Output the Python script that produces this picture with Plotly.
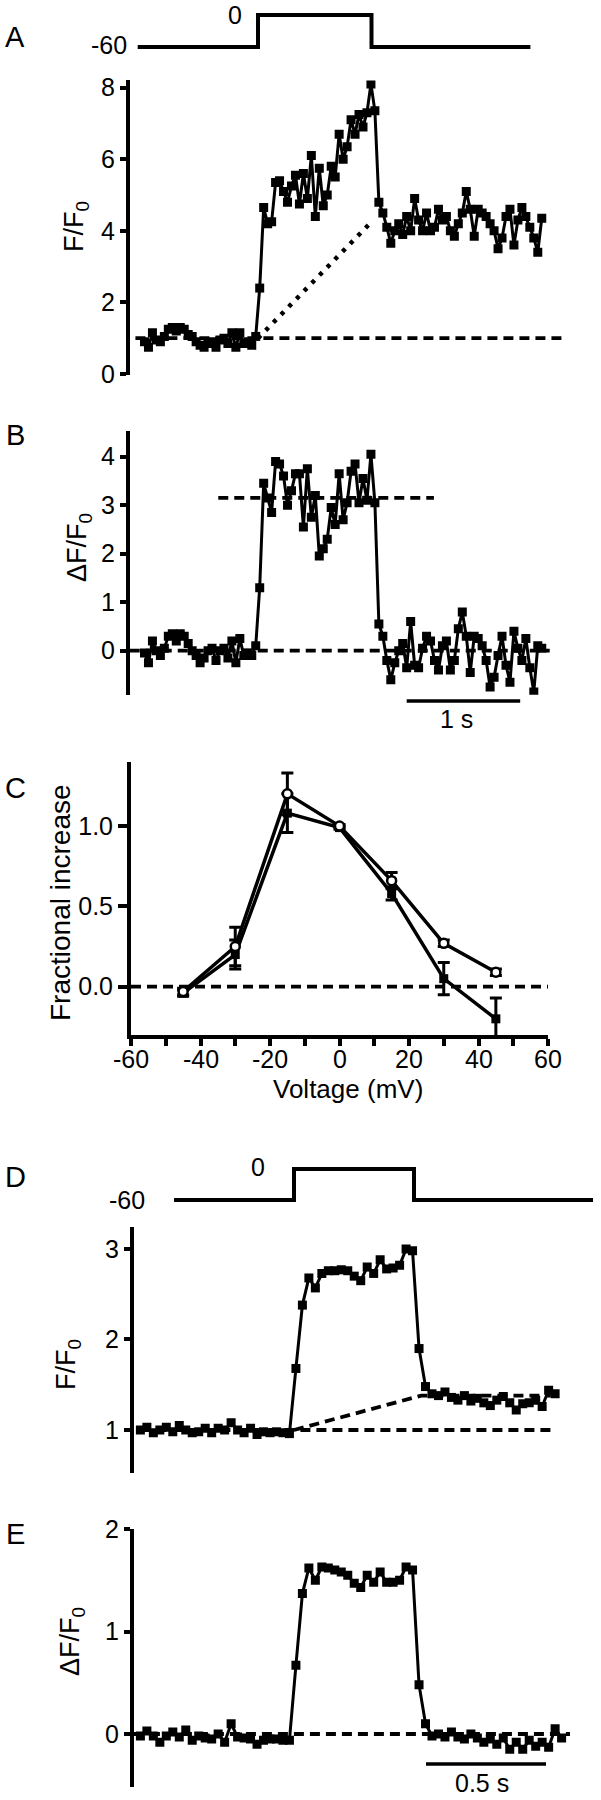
import numpy as np
import plotly.graph_objects as go

W, H = 601, 1800
FONT = "Liberation Sans, Arial, Helvetica, sans-serif"
FONT_R = "Liberation Sans, Arial, Helvetica, sans-serif"

# ---------------- data ----------------
tA_start, tA_dt = -1.0, 0.035
FF0_A = [0.90, 0.75, 1.15, 0.95, 0.90, 1.05, 1.25, 1.30, 1.20, 1.30, 1.25, 1.10, 1.05, 0.90, 0.80,
         0.75, 0.85, 0.90, 0.75, 0.95, 1.00, 0.85, 1.15, 0.75, 1.15, 0.85, 0.90, 0.80, 1.05,
         2.40, 4.65, 4.20, 4.25, 5.35, 5.40, 5.10, 4.80, 5.25, 5.55, 4.75, 5.60, 4.90, 6.10, 4.40,
         5.75, 4.70, 5.00, 5.80, 5.50, 6.70, 6.00, 6.35, 7.10, 6.70, 7.25, 6.90, 7.30, 8.10, 7.35,
         4.80, 4.50, 4.10, 3.65, 4.00, 4.20, 3.90, 4.40, 4.00, 4.90, 4.30, 4.00, 4.50, 4.00, 4.10,
         4.60, 4.30, 4.40, 4.00, 3.85, 4.20, 4.50, 5.10, 4.60, 3.85, 4.60, 4.50, 4.40, 4.20, 4.00,
         3.50, 3.80, 4.40, 4.60, 3.60, 4.30, 4.65, 4.40, 4.10, 3.80, 3.40, 4.35]
dFF0_B = [-0.05, -0.25, 0.20, 0.00, -0.10, 0.05, 0.30, 0.35, 0.20, 0.35, 0.30, 0.15, 0.00, -0.10, -0.25,
          -0.15, 0.00, 0.05, -0.20, 0.00, 0.05, -0.15, 0.20, -0.25, 0.25, -0.10, -0.05, -0.10, 0.10,
          1.30, 3.45, 3.15, 2.85, 3.90, 3.85, 3.60, 3.00, 3.30, 3.65, 3.65, 2.55, 3.75, 2.75, 3.20,
          1.95, 2.10, 2.30, 2.95, 2.60, 3.65, 2.70, 3.05, 3.70, 3.85, 3.05, 3.55, 3.10, 4.05, 3.05,
          0.55, 0.30, -0.20, -0.60, -0.25, 0.00, 0.15, -0.35, 0.60, -0.30, -0.35, 0.05, 0.30, 0.20,
          -0.20, -0.40, 0.10, 0.20, -0.40, -0.20, 0.45, 0.80, 0.30, -0.45, 0.30, 0.25, 0.10, -0.20,
          -0.75, -0.55, -0.10, 0.30, -0.30, -0.65, 0.40, 0.05, -0.20, 0.25, -0.35, -0.85, 0.10, 0.05]
voltA_t = [-1.06, 0.0, 0.0, 1.0, 1.0, 2.40]
voltA_v = [-60, -60, 0, 0, -60, -60]
baseA_t, baseA_y = [-1.08, 2.72], [1.0, 1.0]
dotA_t, dotA_y = [0.0, 1.0], [1.0, 4.25]
zeroB_t, zeroB_y = [-1.13, 2.57], [0.0, 0.0]
meanB_t, meanB_y = [-0.35, 1.55], [3.15, 3.15]
barB_t = [1.31, 2.31]          # 1 s scale bar

voltage_mV = [-45, -30, -15, 0, 15, 30, 45]
closed_vals = [-0.04, 0.20, 1.08, 0.99, 0.58, 0.05, -0.20]
closed_err = [0.02, 0.09, 0.12, 0.01, 0.04, 0.10, 0.13]
open_vals = [-0.03, 0.25, 1.20, 1.00, 0.66, 0.27, 0.09]
open_err = [0.02, 0.12, 0.13, 0.01, 0.05, 0.02, 0.02]
zeroC_x, zeroC_y = [-60, 60], [0.0, 0.0]
C_xticks = [-60, -50, -40, -30, -20, -10, 0, 10, 20, 30, 40, 50, 60]
C_xlabel_vals = [-60, -40, -20, 0, 20, 40, 60]
C_xlabels = ["-60", "-40", "-20", "0", "20", "40", "60"]
C_yticks = [0.0, 0.5, 1.0]
C_ylabels = ["0.0", "0.5", "1.0"]

tD_start, tD_dt = -0.64, 0.027
FF0_D = [1.00, 1.03, 0.97, 1.00, 1.03, 0.98, 1.05, 1.00, 0.97, 0.98, 1.02, 0.97, 1.02, 1.00, 1.08,
         1.00, 0.97, 1.02, 0.95, 0.98, 0.97, 0.98, 0.97, 0.96,
         1.68, 2.38, 2.68, 2.57, 2.73, 2.76, 2.76, 2.77, 2.76, 2.70, 2.65, 2.80, 2.73, 2.88, 2.78,
         2.79, 2.82, 3.00, 2.98,
         1.90, 1.48,
         1.40, 1.38, 1.42, 1.36, 1.33, 1.38, 1.32, 1.35, 1.30, 1.27, 1.33, 1.37, 1.30, 1.22, 1.29,
         1.30, 1.33, 1.26, 1.44, 1.40]
dFF0_E = [-0.02, 0.03, -0.02, -0.08, -0.02, 0.02, -0.03, 0.04, -0.06, -0.02, -0.04, -0.05, 0.00, -0.08,
          0.10, -0.03, -0.04, -0.05, -0.10, -0.06, -0.05, -0.05, -0.06, -0.06,
          0.67, 1.37, 1.62, 1.50, 1.63, 1.62, 1.60, 1.58, 1.55, 1.47, 1.43, 1.55, 1.48, 1.58, 1.48,
          1.48, 1.50, 1.63, 1.60,
          0.48, 0.10,
          -0.02, 0.00, -0.03, 0.02, -0.03, -0.05, 0.00, -0.04, -0.08, -0.05, -0.10, -0.04, -0.15,
          -0.08, -0.15, -0.06, -0.12, -0.08, -0.13, 0.05, -0.04]
voltD_t = [-0.5, 0.0, 0.0, 0.5, 0.5, 1.246]
voltD_v = [-60, -60, 0, 0, -60, -60]
baseD_t, baseD_y = [-0.64, 1.07], [1.0, 1.0]
fitD_t, fitD_y = [0.0, 0.53, 1.07], [1.0, 1.38, 1.38]
zeroE_t, zeroE_y = [-0.667, 1.15], [0.0, 0.0]
barE_t = [0.55, 1.05]          # 0.5 s scale bar

tA = tA_start + tA_dt * np.arange(len(FF0_A))
tB = tA_start + tA_dt * np.arange(len(dFF0_B))
tD = tD_start + tD_dt * np.arange(len(FF0_D))
tE = tD_start + tD_dt * np.arange(len(dFF0_E))

# ---------------- pixel geometry helpers ----------------
def xdom(q0, k, lo, hi):
    return [(q0 + lo * k) / W, (q0 + hi * k) / W]

def ydom(p0, k, lo, hi):
    return [1 - (p0 - lo * k) / H, 1 - (p0 - hi * k) / H]

def py(p):
    return 1 - p / H

def px(p):
    return p / W

fig = go.Figure()
BLACK = "black"

def data_trace(x, y, xa, ya, msize=9):
    fig.add_trace(go.Scatter(x=x, y=y, xaxis=xa, yaxis=ya, mode="lines+markers",
                             line=dict(color=BLACK, width=3),
                             marker=dict(symbol="square", size=msize, color=BLACK),
                             hoverinfo="skip"))

def line_trace(x, y, xa, ya, dash="solid", width=3.8):
    fig.add_trace(go.Scatter(x=x, y=y, xaxis=xa, yaxis=ya, mode="lines",
                             line=dict(color=BLACK, width=width, dash=dash),
                             hoverinfo="skip"))

DASH = "10px,6px"

# Panel A
line_trace(voltA_t, voltA_v, "x2", "y2", width=4)
line_trace(baseA_t, baseA_y, "x", "y", dash=DASH)
line_trace(dotA_t, dotA_y, "x", "y", dash="4px,7px", width=4.5)
data_trace(tA, FF0_A, "x", "y")

# Panel B
line_trace(zeroB_t, zeroB_y, "x3", "y3", dash=DASH)
line_trace(meanB_t, meanB_y, "x3", "y3", dash=DASH)
data_trace(tB, dFF0_B, "x3", "y3")

# Panel C
line_trace(zeroC_x, zeroC_y, "x4", "y4", dash=DASH)
fig.add_trace(go.Scatter(x=voltage_mV, y=closed_vals, xaxis="x4", yaxis="y4", mode="lines+markers",
                         line=dict(color=BLACK, width=3.5),
                         marker=dict(symbol="square", size=9, color=BLACK),
                         error_y=dict(type="data", array=closed_err, color=BLACK, thickness=3, width=6),
                         hoverinfo="skip"))
fig.add_trace(go.Scatter(x=voltage_mV, y=open_vals, xaxis="x4", yaxis="y4", mode="lines+markers",
                         line=dict(color=BLACK, width=3.5),
                         marker=dict(symbol="circle", size=9, color="white",
                                     line=dict(color=BLACK, width=2.5)),
                         error_y=dict(type="data", array=open_err, color=BLACK, thickness=3, width=6),
                         hoverinfo="skip"))

# Panel D
line_trace(voltD_t, voltD_v, "x6", "y6", width=4)
line_trace(baseD_t, baseD_y, "x5", "y5", dash=DASH)
line_trace(fitD_t, fitD_y, "x5", "y5", dash=DASH)
data_trace(tD, FF0_D, "x5", "y5")

# Panel E
line_trace(zeroE_t, zeroE_y, "x7", "y7", dash=DASH)
data_trace(tE, dFF0_E, "x7", "y7")

# ---------------- axes ----------------
TICKFONT = dict(family=FONT, size=25, color=BLACK)

def yax(domain, rng, anchor, tickvals, ticktext=None, ticklen=6):
    d = dict(domain=domain, range=rng, anchor=anchor, showline=True, linecolor=BLACK,
             linewidth=4, ticks="outside", ticklen=ticklen, tickwidth=3.5, tickcolor=BLACK,
             tickvals=tickvals, showgrid=False, zeroline=False, tickfont=TICKFONT,
             fixedrange=True, automargin=False)
    if ticktext is not None:
        d["ticktext"] = ticktext
    return d

def hidden(domain, rng, anchor):
    return dict(domain=domain, range=rng, anchor=anchor, visible=False, fixedrange=True,
                automargin=False)

A_xr = [-1.128, 2.9]
A_xd = xdom(258, 113.5, *A_xr)
A_yr = [-0.03, 8.2]
layout = dict(
    xaxis=hidden(A_xd, A_xr, "y"),
    yaxis=yax(ydom(374, 35.8, *A_yr), A_yr, "x", [0, 2, 4, 6, 8]),
    xaxis2=hidden(A_xd, A_xr, "y2"),
    yaxis2=hidden(ydom(47 - 60 * 0.533, 0.533, -66, 6), [-66, 6], "x2"),
    xaxis3=hidden(A_xd, A_xr, "y3"),
    yaxis3=yax(ydom(650.7, 48.5, -0.91, 4.52), [-0.91, 4.52], "x3", [0, 1, 2, 3, 4]),
)
C_xr = [-60, 60]
layout["xaxis4"] = dict(domain=xdom(339.5, 3.475, *C_xr), range=C_xr, anchor="y4", showline=True,
                        linecolor=BLACK, linewidth=4, ticks="outside", ticklen=7, tickwidth=3.5,
                        tickcolor=BLACK, tickvals=C_xticks, showticklabels=False, showgrid=False,
                        zeroline=False, fixedrange=True, automargin=False)
layout["yaxis4"] = yax(ydom(986.7, 160.7, -0.3, 1.4), [-0.3, 1.4], "x4", C_yticks, C_ylabels, ticklen=9)
D_xr = [-0.667, 1.27]
D_xd = xdom(294, 240, *D_xr)
layout["xaxis5"] = hidden(D_xd, D_xr, "y5")
layout["yaxis5"] = yax(ydom(1430 + 90.5, 90.5, 0.525, 3.243), [0.525, 3.243], "x5", [1, 2, 3])
layout["xaxis6"] = hidden(D_xd, D_xr, "y6")
layout["yaxis6"] = hidden(ydom(1200 - 60 * 0.517, 0.517, -66, 6), [-66, 6], "x6")
layout["xaxis7"] = hidden(D_xd, D_xr, "y7")
layout["yaxis7"] = yax(ydom(1734, 102.5, -0.52, 2.0), [-0.52, 2.0], "x7", [0, 1, 2])

# ---------------- texts ----------------
ann = []
def txt(s, x, y, size=25, angle=0, family=FONT, xref="paper"):
    ann.append(dict(text=s, x=(px(x) if xref == "paper" else x), y=py(y), xref=xref, yref="paper",
                    showarrow=False, xanchor="center", yanchor="middle", textangle=angle,
                    font=dict(family=family, size=size, color=BLACK)))

for lab, yy in [("A", 37), ("B", 435), ("C", 788), ("D", 1177), ("E", 1534)]:
    txt(lab, 15, yy, size=29)
txt("-60", 109, 45)
txt("0", 235, 15)
txt("-60", 127, 1200)
txt("0", 258, 1167)
txt("F/F<sub>0</sub>", 76, 227, size=27, angle=-90, family=FONT_R)
txt("ΔF/F<sub>0</sub>", 79, 548, size=27, angle=-90, family=FONT_R)
txt("Fractional increase", 60, 903, size=28, angle=-90, family=FONT_R)
for v, s in zip(C_xlabel_vals, C_xlabels):
    txt(s, v, 1059, size=25, xref="x4")
txt("Voltage (mV)", 348, 1089, size=26)
txt("F/F<sub>0</sub>", 68, 1365, size=27, angle=-90, family=FONT_R)
txt("ΔF/F<sub>0</sub>", 72, 1642, size=27, angle=-90, family=FONT_R)
txt("1 s", 456, 719, size=25)
txt("0.5 s", 482, 1783, size=25)

shapes = [
    dict(type="line", xref="x3", yref="paper", x0=barB_t[0], x1=barB_t[1], y0=py(701), y1=py(701),
         line=dict(color=BLACK, width=3.5)),
    dict(type="line", xref="x7", yref="paper", x0=barE_t[0], x1=barE_t[1], y0=py(1764), y1=py(1764),
         line=dict(color=BLACK, width=3.5)),
]

fig.update_layout(**layout)
fig.update_layout(width=W, height=H, autosize=False, margin=dict(l=0, r=0, t=0, b=0, pad=0),
                  paper_bgcolor="white", plot_bgcolor="rgba(0,0,0,0)", showlegend=False,
                  annotations=ann, shapes=shapes, font=dict(family=FONT, color=BLACK))

fig.write_html("out.html", config={"displayModeBar": False},
               post_script="document.body.style.margin='0px';")
